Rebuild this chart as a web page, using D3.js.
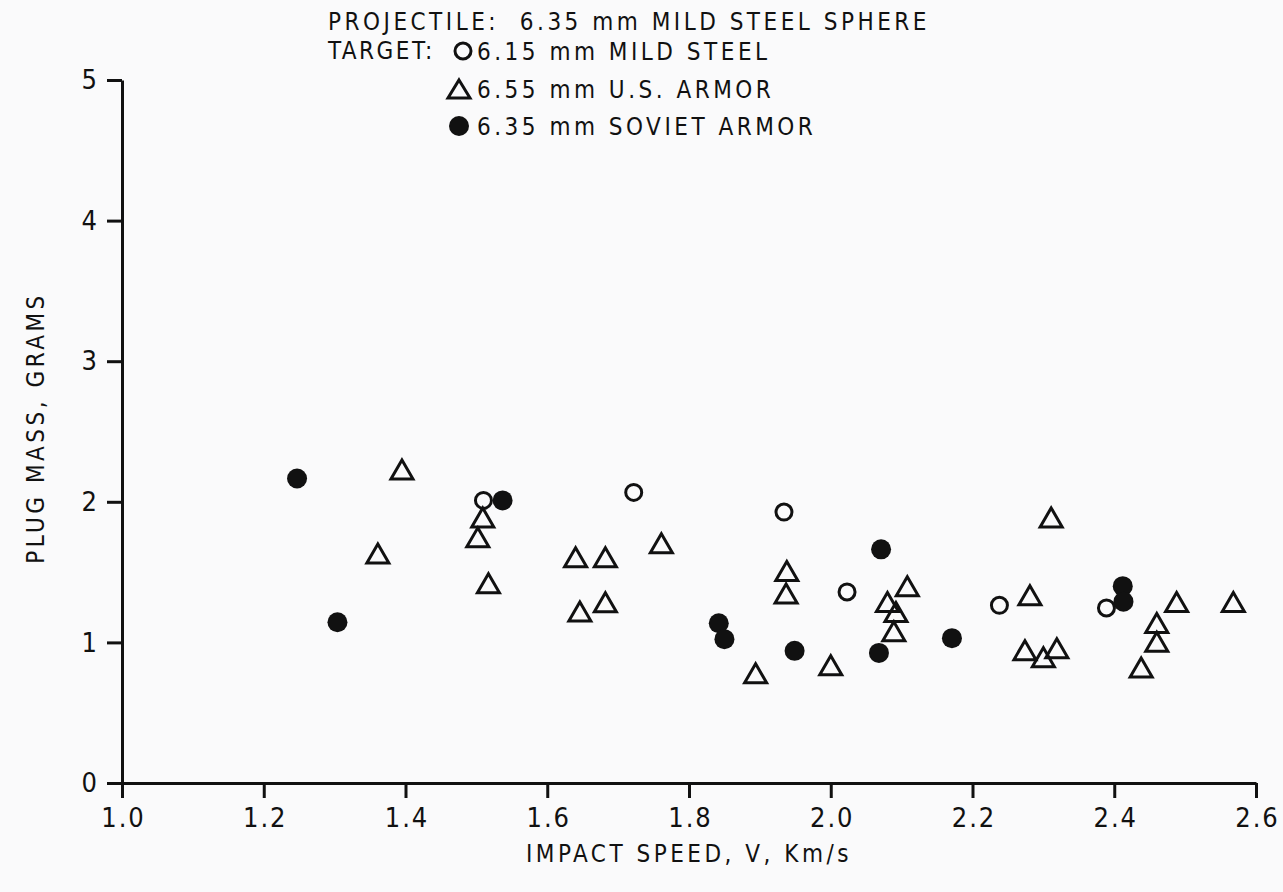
<!DOCTYPE html>
<html><head><meta charset="utf-8">
<script src="https://cdn.jsdelivr.net/npm/d3@7"></script>
<style>
body{margin:0;background:#fafafb;}
svg text{font-family:"Liberation Sans Narrow","DejaVu Sans Condensed","Arial Narrow","Liberation Sans",sans-serif;font-stretch:condensed;fill:#111;white-space:pre;}
</style></head><body>
<svg id="chart" width="1283" height="892"></svg>
<script>
// ---- data ----
const xTicks = [1.0, 1.2, 1.4, 1.6, 1.8, 2.0, 2.2, 2.4, 2.6];
const yTicks = [0, 1, 2, 3, 4, 5];

const mildSteelSpeed = [1.510, 1.722, 1.934, 2.023, 2.238, 2.389];
const mildSteelMass  = [2.01, 2.067, 1.927, 1.359, 1.264, 1.245];

const usArmorSpeed = [1.361, 1.395, 1.509, 1.502, 1.517, 1.640, 1.646, 1.682, 1.682, 1.761,
                      1.894, 1.938, 1.937, 2.000, 2.108, 2.080, 2.092, 2.089, 2.311, 2.281,
                      2.274, 2.300, 2.319, 2.488, 2.568, 2.460, 2.460, 2.438];
const usArmorMass  = [1.633, 2.23, 1.889, 1.747, 1.42, 1.605, 1.22, 1.605, 1.286, 1.705,
                      0.78, 1.508, 1.347, 0.838, 1.40, 1.288, 1.217, 1.08, 1.889, 1.335,
                      0.945, 0.895, 0.959, 1.288, 1.288, 1.138, 1.004, 0.822];

const sovietSpeed = [1.247, 1.304, 1.537, 1.842, 1.850, 1.949, 2.071, 2.068, 2.171, 2.412, 2.413];
const sovietMass  = [2.166, 1.143, 2.01, 1.136, 1.023, 0.94, 1.662, 0.925, 1.03, 1.40, 1.29];

const titleLine = "PROJECTILE:  6.35 mm MILD STEEL SPHERE";
const targetLabel = "TARGET:";
const seriesLabels = ["6.15 mm MILD STEEL", "6.55 mm U.S. ARMOR", "6.35 mm SOVIET ARMOR"];
const xTitle = "IMPACT SPEED, V, Km/s";
const yTitle = "PLUG MASS, GRAMS";

// ---- drawing ----
const svg = d3.select("#chart");
const ink = "#111";
const x = d3.scaleLinear().domain([1.0, 2.6]).range([122, 1256]);
const y = d3.scaleLinear().domain([0, 5]).range([783, 80]);

const triPath = (w, h) => `M0,${-h/2}L${w/2},${h/2}L${-w/2},${h/2}Z`;

// axes
const gx = svg.append("g").attr("transform", `translate(0,${y(0)})`)
  .call(d3.axisBottom(x).tickValues(xTicks).tickFormat(d3.format(".1f"))
        .tickSizeInner(15).tickSizeOuter(0).tickPadding(7));
const gy = svg.append("g").attr("transform", `translate(${x(1.0)},0)`)
  .call(d3.axisLeft(y).tickValues(yTicks).tickFormat(d3.format("d"))
        .tickSizeInner(15).tickSizeOuter(0).tickPadding(8));
[gx, gy].forEach(g => {
  g.select(".domain").attr("stroke", ink).attr("stroke-width", 3);
  g.selectAll(".tick line").attr("stroke", ink).attr("stroke-width", 3);
  g.selectAll(".tick text").attr("font-size", 27).attr("fill", ink)
    .attr("letter-spacing", 2).style("font-family", null);
});
gx.selectAll(".tick text").attr("dy", "0.8em").attr("dx", 1);

// axis titles
const big = {size: 24, ls: 3.5};
svg.append("text").attr("x", 689).attr("y", 862).attr("text-anchor", "middle")
  .attr("font-size", big.size).attr("letter-spacing", big.ls).text(xTitle);
svg.append("text").attr("transform", `translate(44,${428}) rotate(-90)`)
  .attr("text-anchor", "middle").attr("font-size", big.size).attr("letter-spacing", big.ls).text(yTitle);

// legend / header
svg.append("text").attr("x", 328).attr("y", 30).attr("font-size", big.size)
  .attr("letter-spacing", big.ls).text(titleLine);
svg.append("text").attr("x", 328).attr("y", 59).attr("font-size", big.size)
  .attr("letter-spacing", 2.5).text(targetLabel);
const legY = [51, 89, 126];
svg.append("circle").attr("cx", 463).attr("cy", legY[0]).attr("r", 8)
  .attr("fill", "none").attr("stroke", ink).attr("stroke-width", 3);
svg.append("path").attr("d", triPath(22, 18)).attr("transform", `translate(459,${legY[1]})`)
  .attr("fill", "none").attr("stroke", ink).attr("stroke-width", 3);
svg.append("circle").attr("cx", 459).attr("cy", legY[2]).attr("r", 10).attr("fill", ink);
seriesLabels.forEach((t, i) => {
  svg.append("text").attr("x", 477).attr("y", legY[i] + 9).attr("font-size", big.size)
    .attr("letter-spacing", big.ls).text(t);
});

// points
const us = usArmorSpeed.map((v, i) => [v, usArmorMass[i]]);
const ms = mildSteelSpeed.map((v, i) => [v, mildSteelMass[i]]);
const sv = sovietSpeed.map((v, i) => [v, sovietMass[i]]);

svg.append("g").selectAll("path").data(us).join("path")
  .attr("d", triPath(22, 19))
  .attr("transform", d => `translate(${x(d[0])},${y(d[1])})`)
  .attr("fill", "none").attr("stroke", ink).attr("stroke-width", 3);
svg.append("g").selectAll("circle").data(ms).join("circle")
  .attr("cx", d => x(d[0])).attr("cy", d => y(d[1])).attr("r", 8)
  .attr("fill", "none").attr("stroke", ink).attr("stroke-width", 3);
svg.append("g").selectAll("circle").data(sv).join("circle")
  .attr("cx", d => x(d[0])).attr("cy", d => y(d[1])).attr("r", 10)
  .attr("fill", ink);
</script>
</body></html>
